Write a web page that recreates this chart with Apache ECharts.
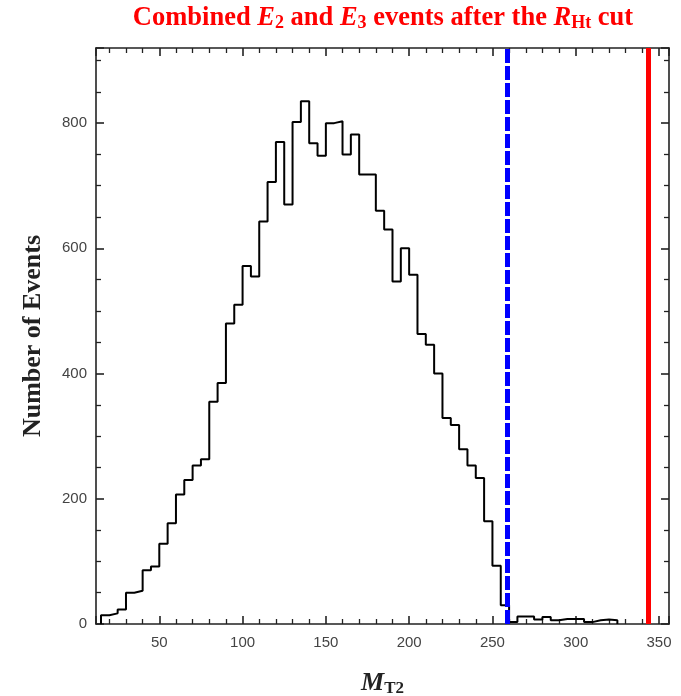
<!DOCTYPE html>
<html>
<head>
<meta charset="utf-8">
<script src="https://cdn.jsdelivr.net/npm/echarts@6/dist/echarts.min.js"></script>
<style>
html,body{margin:0;padding:0;background:#fff;}
#c{width:681px;height:696px;}
</style>
</head>
<body>
<div id="c"></div>
<script>
// Histogram bin left edges (MT2) and counts
var binLeftEdges = [15,20,25,30,35,40,45,50,55,60,65,70,75,80,85,90,95,100,105,110,115,120,125,130,135,140,145,150,155,160,165,170,175,180,185,190,195,200,205,210,215,220,225,230,235,240,245,250,255,260,265,270,275,280,285,290,295,300,305,310,315,320];
var binRightEnd = 325;
var counts = [14,17,23,50,53,86,92,128,161,207,230,253,263,355,385,480,510,572,555,643,706,770,670,802,835,768,748,800,803,750,782,718,718,660,630,547,600,558,463,446,400,329,318,279,253,233,164,93,30,3,12,12,7,11,6,8,8,8,3,6,7,6];
// Cut positions
var cutBlue = 258.7;
var cutRed = 343.6;
// Axis ranges / ticks
var xMin = 12, xMax = 356, xStep = 50;
var yMin = 0, yMax = 920, yStep = 200;

var stepData = [[binLeftEdges[0], 0]];
for (var i = 0; i < counts.length; i++) stepData.push([binLeftEdges[i], counts[i]]);
stepData.push([binRightEnd, counts[counts.length - 1]]);
stepData.push([binRightEnd, 0]);

var serif = '"Liberation Serif", "DejaVu Serif", serif';
var sans = '"Liberation Sans", Arial, sans-serif';
var frameColor = '#222';

function xAx(pos, labels) {
  return {
    type: 'value', position: pos, min: xMin, max: xMax,
    minInterval: xStep, maxInterval: xStep,
    axisLine: {show: true, onZero: false, lineStyle: {color: frameColor, width: 1.6}},
    axisTick: {show: true, inside: true, length: 8, lineStyle: {color: frameColor, width: 1.6}},
    minorTick: {show: true, splitNumber: 5, length: 5, lineStyle: {color: frameColor, width: 1.3}},
    splitLine: {show: false},
    axisLabel: {show: labels, showMinLabel: false, showMaxLabel: false, color: '#444', fontFamily: sans, fontSize: 15, margin: 11},
    name: labels ? '{i|M}{s|T2}' : '',
    nameLocation: 'middle', nameGap: 45,
    nameTextStyle: {
      rich: {
        i: {fontFamily: serif, fontStyle: 'italic', fontWeight: 'bold', fontSize: 26, color: '#222'},
        s: {fontFamily: serif, fontWeight: 'bold', fontSize: 17, color: '#222', padding: [11, 0, 0, 0]}
      }
    }
  };
}
function yAx(pos, labels) {
  return {
    type: 'value', position: pos, min: yMin, max: yMax, interval: yStep,
    axisLine: {show: true, onZero: false, lineStyle: {color: frameColor, width: 1.6}},
    axisTick: {show: true, inside: true, length: 8, lineStyle: {color: frameColor, width: 1.6}},
    minorTick: {show: true, splitNumber: 4, length: 5, lineStyle: {color: frameColor, width: 1.3}},
    splitLine: {show: false},
    axisLabel: {show: labels, showMaxLabel: false, color: '#444', fontFamily: sans, fontSize: 15, margin: 9},
    name: labels ? 'Number of Events' : '',
    nameLocation: 'middle', nameGap: 50,
    nameTextStyle: {fontFamily: serif, fontWeight: 'bold', fontSize: 26, color: '#222'}
  };
}

var chart = echarts.init(document.getElementById('c'), null, {renderer: 'canvas'});
chart.setOption({
  animation: false,
  backgroundColor: '#fff',
  grid: {left: 96, right: 12, top: 48, bottom: 72, containLabel: false, outerBoundsMode: 'none'},
  graphic: [{
    type: 'text', x: 383, y: 18,
    style: {
      text: '{n|Combined }{i|E}{s|2}{n| and }{i|E}{s|3}{n| events after the }{i|R}{s|Ht}{n| cut}',
      align: 'center', verticalAlign: 'middle',
      textAlign: 'center', textVerticalAlign: 'middle',
      rich: {
        n: {fontFamily: serif, fontWeight: 'bold', fontSize: 26.5, fill: '#ff0000'},
        i: {fontFamily: serif, fontWeight: 'bold', fontStyle: 'italic', fontSize: 26.5, fill: '#ff0000'},
        s: {fontFamily: serif, fontWeight: 'bold', fontSize: 18, fill: '#ff0000', padding: [10, 0, 0, 0]}
      }
    }
  }],
  xAxis: [xAx('bottom', true), xAx('top', false)],
  yAxis: [yAx('left', true), yAx('right', false)],
  series: [{
    type: 'line', step: 'end', data: stepData, symbol: 'none',
    lineStyle: {color: '#000', width: 2},
    z: 2
  }, {
    type: 'line', data: [], symbol: 'none',
    markLine: {
      silent: true, symbol: ['none', 'none'], label: {show: false},
      data: [
        {xAxis: cutBlue, lineStyle: {color: '#0000ff', width: 5, type: [14, 3]}},
        {xAxis: cutRed, lineStyle: {color: '#ff0000', width: 5, type: 'solid'}}
      ]
    },
    z: 3
  }]
});
</script>
</body>
</html>
